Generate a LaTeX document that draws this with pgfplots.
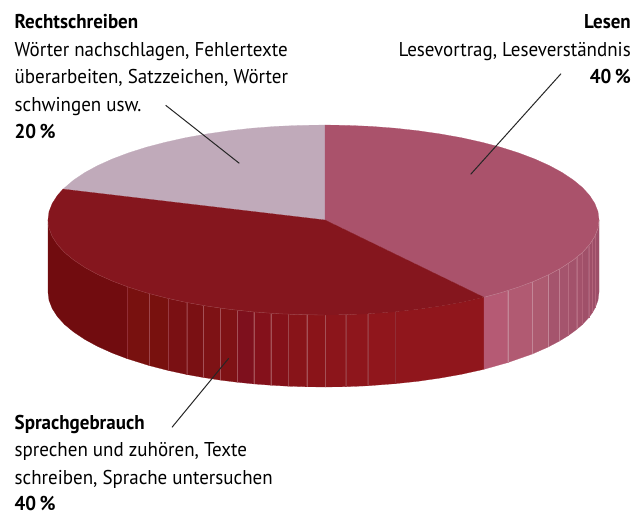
\documentclass[border=0pt]{standalone}
\usepackage{pgfplots}
\pgfplotsset{compat=1.18}
\usepackage{fontspec}
\setmainfont[FakeStretch=0.95]{PT Sans}
\definecolor{rose}{HTML}{AA526B}
\definecolor{deep}{HTML}{85161E}
\definecolor{pale}{HTML}{C0AABA}
\newcommand{\strip}[2]{\addplot[fill={rgb,255:#1},draw={rgb,255:#1},line width=0.2pt] coordinates {#2} -- cycle;}
\newcommand{\seam}[3]{\addplot[draw=#1,line width=0.4pt] coordinates {#2 #3};}
\newcommand{\lbl}[2]{\node[anchor=base west,inner sep=0pt,text=black] at (axis cs:14.5,#1) {\fontsize{20}{20}\selectfont #2};}
\newcommand{\lblr}[2]{\node[anchor=base east,inner sep=0pt,text=black] at (axis cs:631,#1) {\fontsize{20}{20}\selectfont #2};}
\begin{document}
\begin{tikzpicture}
\begin{axis}[hide axis,scale only axis,width=634pt,height=513pt,xmin=0,xmax=634,ymin=0,ymax=513,y dir=reverse,clip=false]
\path (axis cs:0,0) rectangle (axis cs:634,513);
% side: dark part
\strip{red,113;green,12;blue,15}{(48,220) (48,292) (49.0,300.3) (52.2,308.5) (57.4,316.6) (64.6,324.5) (73.8,332.1) (84.9,339.5) (97.8,346.5) (112.5,353.1) (127,358.6) (127,286.6) (112.5,281.1) (97.8,274.5) (84.9,267.5) (73.8,260.1) (64.6,252.5) (57.4,244.6) (52.2,236.5) (49,228.3)}
\strip{red,120;green,17;blue,15}{(127,286.6) (149.3,293.6) (149.3,365.6) (127,358.6)}
\strip{red,120;green,17;blue,14}{(149.3,293.6) (168.3,298.5) (168.3,370.5) (149.3,365.6)}
\strip{red,122;green,16;blue,19}{(168.3,298.5) (186.7,302.5) (186.7,374.5) (168.3,370.5)}
\strip{red,122;green,16;blue,19}{(186.7,302.5) (203.3,305.5) (203.3,377.5) (186.7,374.5)}
\strip{red,126;green,18;blue,21}{(203.3,305.5) (220.3,308.1) (220.3,380.1) (203.3,377.5)}
\strip{red,127;green,18;blue,21}{(220.3,308.1) (237,310.2) (237,382.2) (220.3,380.1)}
\strip{red,126;green,16;blue,29}{(237,310.2) (253.7,311.9) (253.7,383.9) (237,382.2)}
\strip{red,132;green,17;blue,27}{(253.7,311.9) (270.7,313.2) (270.7,385.2) (253.7,383.9)}
\strip{red,132;green,17;blue,25}{(270.7,313.2) (288.3,314.2) (288.3,386.2) (270.7,385.2)}
\strip{red,136;green,20;blue,25}{(288.3,314.2) (306.7,314.8) (306.7,386.8) (288.3,386.2)}
\strip{red,138;green,20;blue,25}{(306.7,314.8) (325.3,315) (325.3,387) (306.7,386.8)}
\strip{red,140;green,21;blue,27}{(325.3,315) (345.7,314.7) (345.7,386.7) (325.3,387)}
\strip{red,142;green,22;blue,28}{(345.7,314.7) (367.7,313.8) (367.7,385.8) (345.7,386.7)}
\strip{red,144;green,22;blue,28}{(367.7,313.8) (395,311.7) (395,383.7) (367.7,385.8)}
\strip{red,144;green,22;blue,28}{(395,311.7) (417.7,309.3) (439.9,306.1) (461.3,302.3) (484,297.3) (484,369.3) (461.3,374.3) (439.9,378.1) (417.7,381.3) (395,383.7)}
% side: rose part
\strip{red,181;green,90;blue,116}{(484,297.3) (507.7,290.6) (507.7,362.6) (484,369.3)}
\strip{red,177;green,90;blue,114}{(507.7,290.6) (532.3,282) (532.3,354) (507.7,362.6)}
\strip{red,173;green,90;blue,112}{(532.3,282) (548,275.1) (548,347.1) (532.3,354)}
\strip{red,165;green,84;blue,109}{(548,275.1) (559.3,269.1) (559.3,341.1) (548,347.1)}
\strip{red,165;green,84;blue,109}{(559.3,269.1) (568.3,263.6) (568.3,335.6) (559.3,341.1)}
\strip{red,163;green,82;blue,107}{(568.3,263.6) (576.7,257.4) (576.7,329.4) (568.3,335.6)}
\strip{red,163;green,82;blue,107}{(576.7,257.4) (582.3,252.6) (582.3,324.6) (576.7,329.4)}
\strip{red,160;green,80;blue,105}{(582.3,252.6) (588.7,245.7) (588.7,317.7) (582.3,324.6)}
\strip{red,158;green,78;blue,104}{(588.7,245.7) (592.3,240.8) (592.3,312.8) (588.7,317.7)}
\strip{red,156;green,78;blue,104}{(592.3,240.8) (595.3,235.5) (595.3,307.5) (592.3,312.8)}
\strip{red,156;green,78;blue,104}{(595.3,235.5) (598,228.3) (599,220) (599,292) (598,300.3) (595.3,307.5)}
% seams
\seam{deep!90!white}{(127,286.6)}{(127,358.6)}
\seam{deep!80!white}{(149.3,293.6)}{(149.3,365.6)}
\seam{deep!85!white}{(168.3,298.5)}{(168.3,370.5)}
\seam{deep!85!white}{(186.7,302.5)}{(186.7,374.5)}
\seam{deep!75!white}{(203.3,305.5)}{(203.3,377.5)}
\seam{deep!75!white}{(220.3,308.1)}{(220.3,380.1)}
\seam{deep!75!white}{(237,310.2)}{(237,382.2)}
\seam{deep!75!white}{(253.7,311.9)}{(253.7,383.9)}
\seam{deep!75!white}{(270.7,313.2)}{(270.7,385.2)}
\seam{deep!80!white}{(288.3,314.2)}{(288.3,386.2)}
\seam{deep!75!white}{(306.7,314.8)}{(306.7,386.8)}
\seam{deep!75!white}{(325.3,315)}{(325.3,387)}
\seam{deep!85!white}{(345.7,314.7)}{(345.7,386.7)}
\seam{deep!85!white}{(367.7,313.8)}{(367.7,385.8)}
\seam{deep!90!white}{(395,311.7)}{(395,383.7)}
\seam{rose!70!white}{(507.7,290.6)}{(507.7,362.6)}
\seam{rose!70!white}{(532.3,282)}{(532.3,354)}
\seam{rose!70!white}{(548,275.1)}{(548,347.1)}
\seam{rose!75!white}{(559.3,269.1)}{(559.3,341.1)}
\seam{rose!85!white}{(568.3,263.6)}{(568.3,335.6)}
\seam{rose!85!white}{(576.7,257.4)}{(576.7,329.4)}
\seam{rose!90!white}{(582.3,252.6)}{(582.3,324.6)}
\seam{rose!90!white}{(588.7,245.7)}{(588.7,317.7)}
\seam{rose!90!white}{(592.3,240.8)}{(592.3,312.8)}
\seam{rose!90!white}{(595.3,235.5)}{(595.3,307.5)}
% top slices
\addplot[fill=pale,draw=pale,line width=0.2pt] coordinates {(325,220) (63,189.1) (73.8,179.9) (84.9,172.5) (97.8,165.5) (112.5,158.9) (128.7,152.8) (146.4,147.2) (165.5,142.2) (185.7,137.7) (207.1,133.9) (229.3,130.7) (252.2,128.2) (275.7,126.4) (299.5,125.4) (325,125)} -- cycle;
\addplot[fill=rose,draw=rose,line width=0.2pt] coordinates {(325,220) (325,125) (347.5,125.4) (371.3,126.4) (394.8,128.2) (417.7,130.7) (439.9,133.9) (461.3,137.7) (481.5,142.2) (500.6,147.2) (518.3,152.8) (534.5,158.9) (549.2,165.5) (562.1,172.5) (573.2,179.9) (582.4,187.5) (589.6,195.4) (594.8,203.5) (598,211.7) (599,220) (598,228.3) (594.8,236.5) (589.6,244.6) (582.4,252.5) (573.2,260.1) (562.1,267.5) (549.2,274.5) (534.5,281.1) (518.3,287.2) (500.6,292.8) (484,297.3)} -- cycle;
\addplot[fill=deep,draw=deep,line width=0.2pt] coordinates {(325,220) (484,297.3) (461.3,302.3) (439.9,306.1) (417.7,309.3) (394.8,311.8) (371.3,313.6) (347.5,314.6) (323.5,315) (299.5,314.6) (275.7,313.6) (252.2,311.8) (229.3,309.3) (207.1,306.1) (185.7,302.3) (165.5,297.8) (146.4,292.8) (128.7,287.2) (112.5,281.1) (97.8,274.5) (84.9,267.5) (73.8,260.1) (64.6,252.5) (57.4,244.6) (52.2,236.5) (49,228.3) (48,220) (49,211.7) (52.2,203.5) (57.4,195.4) (63,189.1)} -- cycle;
% rim highlights
\addplot[draw=rose!70!white,line width=0.4pt] coordinates {(599,220) (598,228.3) (594.8,236.5) (589.6,244.6) (582.4,252.5) (573.2,260.1) (562.1,267.5) (549.2,274.5) (534.5,281.1) (518.3,287.2) (500.6,292.8) (484,297.3)};
\addplot[draw=deep!80!white,line width=0.3pt] coordinates {(48,224) (49,228.3) (52.2,236.5) (57.4,244.6) (64.6,252.5) (73.8,260.1) (84.9,267.5) (97.8,274.5) (112.5,281.1) (128.7,287.2) (146.4,292.8) (165.5,297.8) (185.7,302.3) (207.1,306.1) (229.3,309.3) (252.2,311.8) (275.7,313.6) (299.5,314.6) (323.5,315)};
% leader lines
\addplot[draw=black!85,line width=1pt] coordinates {(165.7,105.3) (239.3,163.3)};
\addplot[draw=black!85,line width=1pt] coordinates {(561,73.7) (470.7,174.3)};
\addplot[draw=black!85,line width=1pt] coordinates {(228.7,358.3) (172,427.3)};
% labels
\lbl{29}{\textbf{Rechtschreiben}}
\lbl{56.5}{Wörter nachschlagen, Fehlertexte}
\lbl{84}{überarbeiten, Satzzeichen, Wörter}
\lbl{111.5}{schwingen usw.}
\lbl{139}{\textbf{20\,\%}}
\lblr{29}{\textbf{Lesen}}
\lblr{56.5}{Lesevortrag, Leseverständnis}
\lblr{84}{\textbf{40\,\%}}
\lbl{429}{\textbf{Sprachgebrauch}}
\lbl{456.5}{sprechen und zuhören, Texte}
\lbl{484}{schreiben, Sprache untersuchen}
\lbl{510.5}{\textbf{40\,\%}}
\end{axis}
\end{tikzpicture}
\end{document}
